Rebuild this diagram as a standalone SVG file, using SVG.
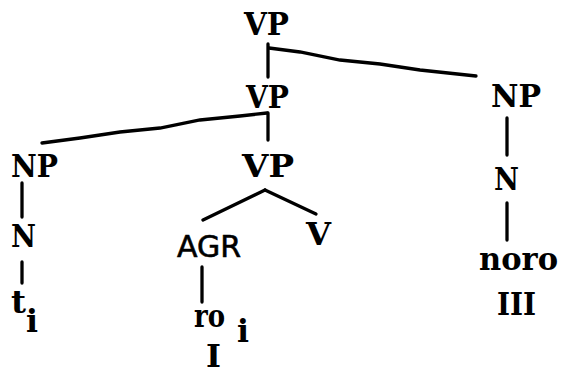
<svg xmlns="http://www.w3.org/2000/svg" width="561" height="370" viewBox="0 0 561 370">
<style>
.t{font-family:"DejaVu Serif","Liberation Serif",serif;font-weight:bold;font-size:31px;fill:#000}
.s{font-family:"DejaVu Sans","Liberation Sans",sans-serif;font-size:30px;fill:#000;stroke:#000;stroke-width:0.6}
.e{stroke:#000;stroke-width:3.3;fill:none;stroke-linecap:round}
</style>
<rect width="561" height="370" fill="#fff"/>
<g id="connectors">
<line class="e" x1="268" y1="44" x2="268" y2="77"/>
<polyline class="e" points="269,48 300,52 340,60 380,64 420,70 476,76"/>
<line class="e" x1="268" y1="113" x2="268" y2="140"/>
<polyline class="e" points="267,113 240,116 200,120 160,128 120,132 80,138 42,143"/>
<line class="e" x1="22" y1="183" x2="22" y2="217"/>
<line class="e" x1="22" y1="262" x2="22" y2="283"/>
<line class="e" x1="265" y1="190" x2="203" y2="220"/>
<line class="e" x1="265" y1="190" x2="316" y2="214"/>
<line class="e" x1="202" y1="267" x2="202" y2="302"/>
<line class="e" x1="507" y1="118" x2="507" y2="155"/>
<line class="e" x1="507" y1="203" x2="507" y2="240"/>
</g>
<g id="n-vp1"><text class="t" x="244" y="35" textLength="45" lengthAdjust="spacingAndGlyphs">VP</text></g>
<g id="n-vp2"><text class="t" x="246" y="108" textLength="43" lengthAdjust="spacingAndGlyphs">VP</text></g>
<g id="n-np1"><text class="t" x="11" y="177" textLength="47" lengthAdjust="spacingAndGlyphs">NP</text></g>
<g id="n-vp3"><text class="t" x="242" y="177" textLength="52" lengthAdjust="spacingAndGlyphs">VP</text></g>
<g id="n-np2"><text class="t" x="491" y="107" textLength="50" lengthAdjust="spacingAndGlyphs">NP</text></g>
<g id="n-n1"><text class="t" x="11" y="247" textLength="25" lengthAdjust="spacingAndGlyphs">N</text></g>
<g id="n-n2"><text class="t" x="494" y="190" textLength="25" lengthAdjust="spacingAndGlyphs">N</text></g>
<g id="n-t"><text class="t" x="11" y="313" textLength="15" lengthAdjust="spacingAndGlyphs">t</text><text class="t" x="26" y="332" textLength="12" lengthAdjust="spacingAndGlyphs">i</text></g>
<g id="n-agr"><text class="s" x="177" y="257" textLength="64" lengthAdjust="spacingAndGlyphs">AGR</text></g>
<g id="n-v"><text class="t" x="306" y="245" textLength="25" lengthAdjust="spacingAndGlyphs">V</text></g>
<g id="n-ro"><text class="t" x="194" y="327" textLength="31" lengthAdjust="spacingAndGlyphs">ro</text><text class="t" x="237" y="342" textLength="12" lengthAdjust="spacingAndGlyphs">i</text></g>
<g id="n-i"><text class="t" x="206" y="367" textLength="15" lengthAdjust="spacingAndGlyphs">I</text></g>
<g id="n-noro"><text class="t" x="479" y="270" textLength="79" lengthAdjust="spacingAndGlyphs">noro</text></g>
<g id="n-iii"><text class="t" x="497" y="315" textLength="39" lengthAdjust="spacingAndGlyphs">III</text></g>
</svg>
